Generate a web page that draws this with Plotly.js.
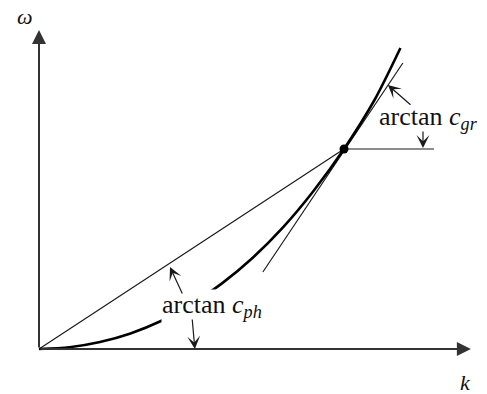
<!DOCTYPE html>
<html>
<head>
<meta charset="utf-8">
<script src="https://cdn.plot.ly/plotly-3.0.1.min.js"></script>
<style>
  html, body { margin: 0; padding: 0; background: #fff; }
  #chart { width: 487px; height: 394px; }
</style>
</head>
<body>
<div id="chart"></div>
<script>
// Dispersion curve omega(k), sampled points
const kCurve = [0, 0.1, 0.2, 0.3, 0.4, 0.5, 0.6, 0.7, 0.8, 0.9, 1.0, 1.1, 1.185];
const wCurve = [0, 0.009, 0.035, 0.078, 0.14, 0.223, 0.328, 0.455, 0.608, 0.79, 1.0, 1.245, 1.505];

// Chord from the origin to the operating point (phase velocity)
const kPhase = [0, 1];
const wPhase = [0, 1];

// Tangent at the operating point (group velocity)
const kTangent = [0.734, 1.193];
const wTangent = [0.385, 1.43];

// Horizontal reference through the operating point
const kLevel = [1, 1.295];
const wLevel = [1, 1];

// Operating point
const kPoint = [1];
const wPoint = [1];

// Axis extents (arrow tips)
const kAxisEnd = 1.416;
const wAxisEnd = 1.595;

// Axis labels
const axisLabels = { k: '<i>k</i>', w: '<i>ω</i>' };
const phaseLabel = 'arctan <i>c</i><sub><i>ph</i></sub>';
const groupLabel = 'arctan <i>c</i><sub><i>gr</i></sub>';

const serif = 'Liberation Serif, Times New Roman, serif';
const thin = { color: '#1a1a1a', width: 1.2 };

const traces = [
  { x: kPhase, y: wPhase, mode: 'lines', line: thin, hoverinfo: 'skip' },
  { x: kTangent, y: wTangent, mode: 'lines', line: thin, hoverinfo: 'skip' },
  { x: kLevel, y: wLevel, mode: 'lines', line: thin, hoverinfo: 'skip' },
  { x: kCurve, y: wCurve, mode: 'lines',
    line: { color: '#000', width: 2.6, shape: 'spline', smoothing: 0.8 }, hoverinfo: 'skip' },
  { x: kPoint, y: wPoint, mode: 'markers',
    marker: { color: '#000', size: 9 }, hoverinfo: 'skip' }
];

function arrow(x, y, ax, ay, opts) {
  return Object.assign({
    x: x, y: y, ax: ax, ay: ay, xref: 'x', yref: 'y', axref: 'x', ayref: 'y',
    text: '', showarrow: true, arrowhead: 3, arrowsize: 1.8, arrowwidth: 1.2,
    arrowcolor: '#1a1a1a', standoff: 0, startstandoff: 0
  }, opts || {});
}

const annotations = [
  // labels with white backing so the curve is hidden behind them
  { x: 0.40, y: 0.215, xref: 'x', yref: 'y', xanchor: 'left', yanchor: 'middle',
    text: phaseLabel, showarrow: false, bgcolor: '#fff', borderpad: 0,
    font: { family: serif, size: 26, color: '#111' } },
  { x: 1.11, y: 1.155, xref: 'x', yref: 'y', xanchor: 'left', yanchor: 'middle',
    text: groupLabel, showarrow: false, bgcolor: '#fff', borderpad: 0,
    font: { family: serif, size: 26, color: '#111' } },
  // axes
  arrow(kAxisEnd, 0, 0, 0, { arrowhead: 2, arrowsize: 1.4, arrowwidth: 2, arrowcolor: '#333' }),
  arrow(0, wAxisEnd, 0, 0, { arrowhead: 2, arrowsize: 1.4, arrowwidth: 2, arrowcolor: '#333' }),
  // angle markers
  arrow(0.4295, 0.41, 0.472, 0.27),
  arrow(0.511, 0.0, 0.502, 0.155),
  arrow(1.144, 1.32, 1.223, 1.215),
  arrow(1.259, 1.005, 1.259, 1.095),
  // axis names
  { x: -0.046, y: 1.665, xref: 'x', yref: 'y', text: axisLabels.w, showarrow: false,
    font: { family: serif, size: 22, color: '#111' } },
  { x: 1.397, y: -0.165, xref: 'x', yref: 'y', text: axisLabels.k, showarrow: false,
    font: { family: serif, size: 22, color: '#111' } }
];

const layout = {
  width: 487, height: 394,
  margin: { l: 0, r: 0, t: 0, b: 0 },
  paper_bgcolor: '#fff', plot_bgcolor: '#fff',
  showlegend: false,
  xaxis: { range: [-0.12787, 1.46885], visible: false, fixedrange: true },
  yaxis: { range: [-0.225, 1.745], visible: false, fixedrange: true },
  annotations: annotations
};

Plotly.newPlot('chart', traces, layout, { staticPlot: true });
</script>
</body>
</html>
